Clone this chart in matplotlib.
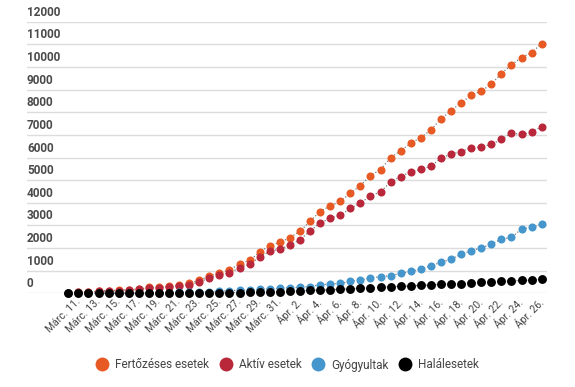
import matplotlib
matplotlib.use("Agg")
import matplotlib.pyplot as plt
import matplotlib.transforms as mtransforms
from matplotlib.lines import Line2D

plt.rcParams["font.family"] = ["Roboto", "DejaVu Sans"]

# days from Márc. 10. to Ápr. 26.
DAYS = [f"Márc. {d}." for d in range(10, 32)] + [f"Ápr. {d}." for d in range(1, 27)]

# Fertőzéses esetek (total cases)
CASES = [25, 49, 59, 89, 123, 131, 158, 184, 260, 277, 308, 367, 433, 576, 762, 906,
         1029, 1292, 1452, 1815, 2109, 2245,
         2460, 2738, 3183, 3613, 3864, 4057, 4417, 4761, 5202, 5467, 5990, 6300, 6633,
         6879, 7216, 7707, 8067, 8418, 8746, 8936, 9242, 9710, 10096, 10417, 10635, 11036]

# Aktív esetek
ACTIVE = [22, 43, 53, 80, 114, 122, 149, 168, 241, 252, 277, 315, 366, 496, 672, 795,
          891, 1129, 1276, 1603, 1851, 1956,
          2123, 2370, 2750, 3100, 3320, 3450, 3750, 3980, 4320, 4470, 4930, 5150, 5380,
          5470, 5620, 5960, 6150, 6260, 6430, 6465, 6580, 6800, 7080, 7020, 7120, 7360]

# Gyógyultak
RECOVERED = [3, 6, 6, 9, 9, 9, 9, 16, 19, 25, 31, 52, 64, 73, 79, 94,
             115, 137, 139, 169, 206, 220,
             252, 270, 300, 380, 410, 440, 525, 590, 675, 735, 780, 880, 965,
             1075, 1215, 1365, 1510, 1730, 1880, 2000, 2175, 2395, 2470, 2840, 2910, 3060]

# Halálesetek
DEATHS = [0, 0, 0, 0, 0, 0, 0, 0, 0, 0, 0, 0, 3, 7, 11, 17,
          23, 26, 37, 43, 52, 69,
          85, 94, 133, 146, 151, 176, 197, 229, 235, 270, 291, 316, 325,
          351, 372, 400, 411, 421, 451, 478, 498, 524, 545, 567, 575, 619]

SERIES = [
    ("Fertőzéses esetek", CASES, "#e85a24"),
    ("Aktív esetek", ACTIVE, "#b8283a"),
    ("Gyógyultak", RECOVERED, "#4596cc"),
    ("Halálesetek", DEATHS, "#000000"),
]

W, H = 575, 387


def main():
    fig = plt.figure(figsize=(W / 100, H / 100), dpi=100)
    ax = fig.add_axes([27 / W, 1 - 293.3 / H, (547 - 27) / W, (293.3 - 21.7) / H])

    x = list(range(len(DAYS)))
    ax.set_xlim(-4.1, len(DAYS) - 1 + 0.53)
    ax.set_ylim(0, 12000)

    for z, (name, vals, color) in enumerate(SERIES):
        size = 6.4 if color == "#000000" else 5.8
        ax.plot(x, vals, linestyle=(0, (1, 1.6)), linewidth=0.9, color="#7a7a7a",
                zorder=2 + z * 2, clip_on=False)
        ax.plot(x, vals, linestyle="none", marker="o", markersize=size,
                markerfacecolor=color, markeredgewidth=0, zorder=3 + z * 2, clip_on=False)

    # grid + y labels sitting on top of the lines
    yt = list(range(0, 12001, 1000))
    ax.set_yticks(yt)
    ax.yaxis.grid(True, color="#dcdcdc", linewidth=1)
    ax.set_axisbelow(True)
    ax.tick_params(axis="y", length=0, labelleft=False)
    trans = mtransforms.offset_copy(ax.get_yaxis_transform(), fig=fig, x=0, y=3, units="dots")
    for v in yt:
        ax.text(0, v, str(v), transform=trans, ha="left", va="bottom",
                fontsize=8.5, color="#4a4a4a", fontweight="bold")

    for s in ax.spines.values():
        s.set_visible(False)

    ax.set_xticks(x[1::2])
    ax.set_xticklabels(DAYS[1::2], rotation=45, ha="right", va="center",
                       rotation_mode="anchor", fontsize=7.5, color="#444444")
    ax.tick_params(axis="x", length=0, pad=5)

    handles = [Line2D([], [], linestyle="none", marker="o", markersize=10,
                      markerfacecolor=c, markeredgewidth=0) for _, _, c in SERIES]
    leg = fig.legend(handles, [n for n, _, _ in SERIES], loc="center",
                     bbox_to_anchor=(0.5, 1 - 365 / H), ncol=4, frameon=False,
                     fontsize=8.5, handlelength=1.0, handletextpad=0.6, columnspacing=0.9)
    for t in leg.get_texts():
        t.set_color("#444444")

    fig.savefig("out.png", dpi=100)
    plt.close(fig)


if __name__ == "__main__":
    main()
